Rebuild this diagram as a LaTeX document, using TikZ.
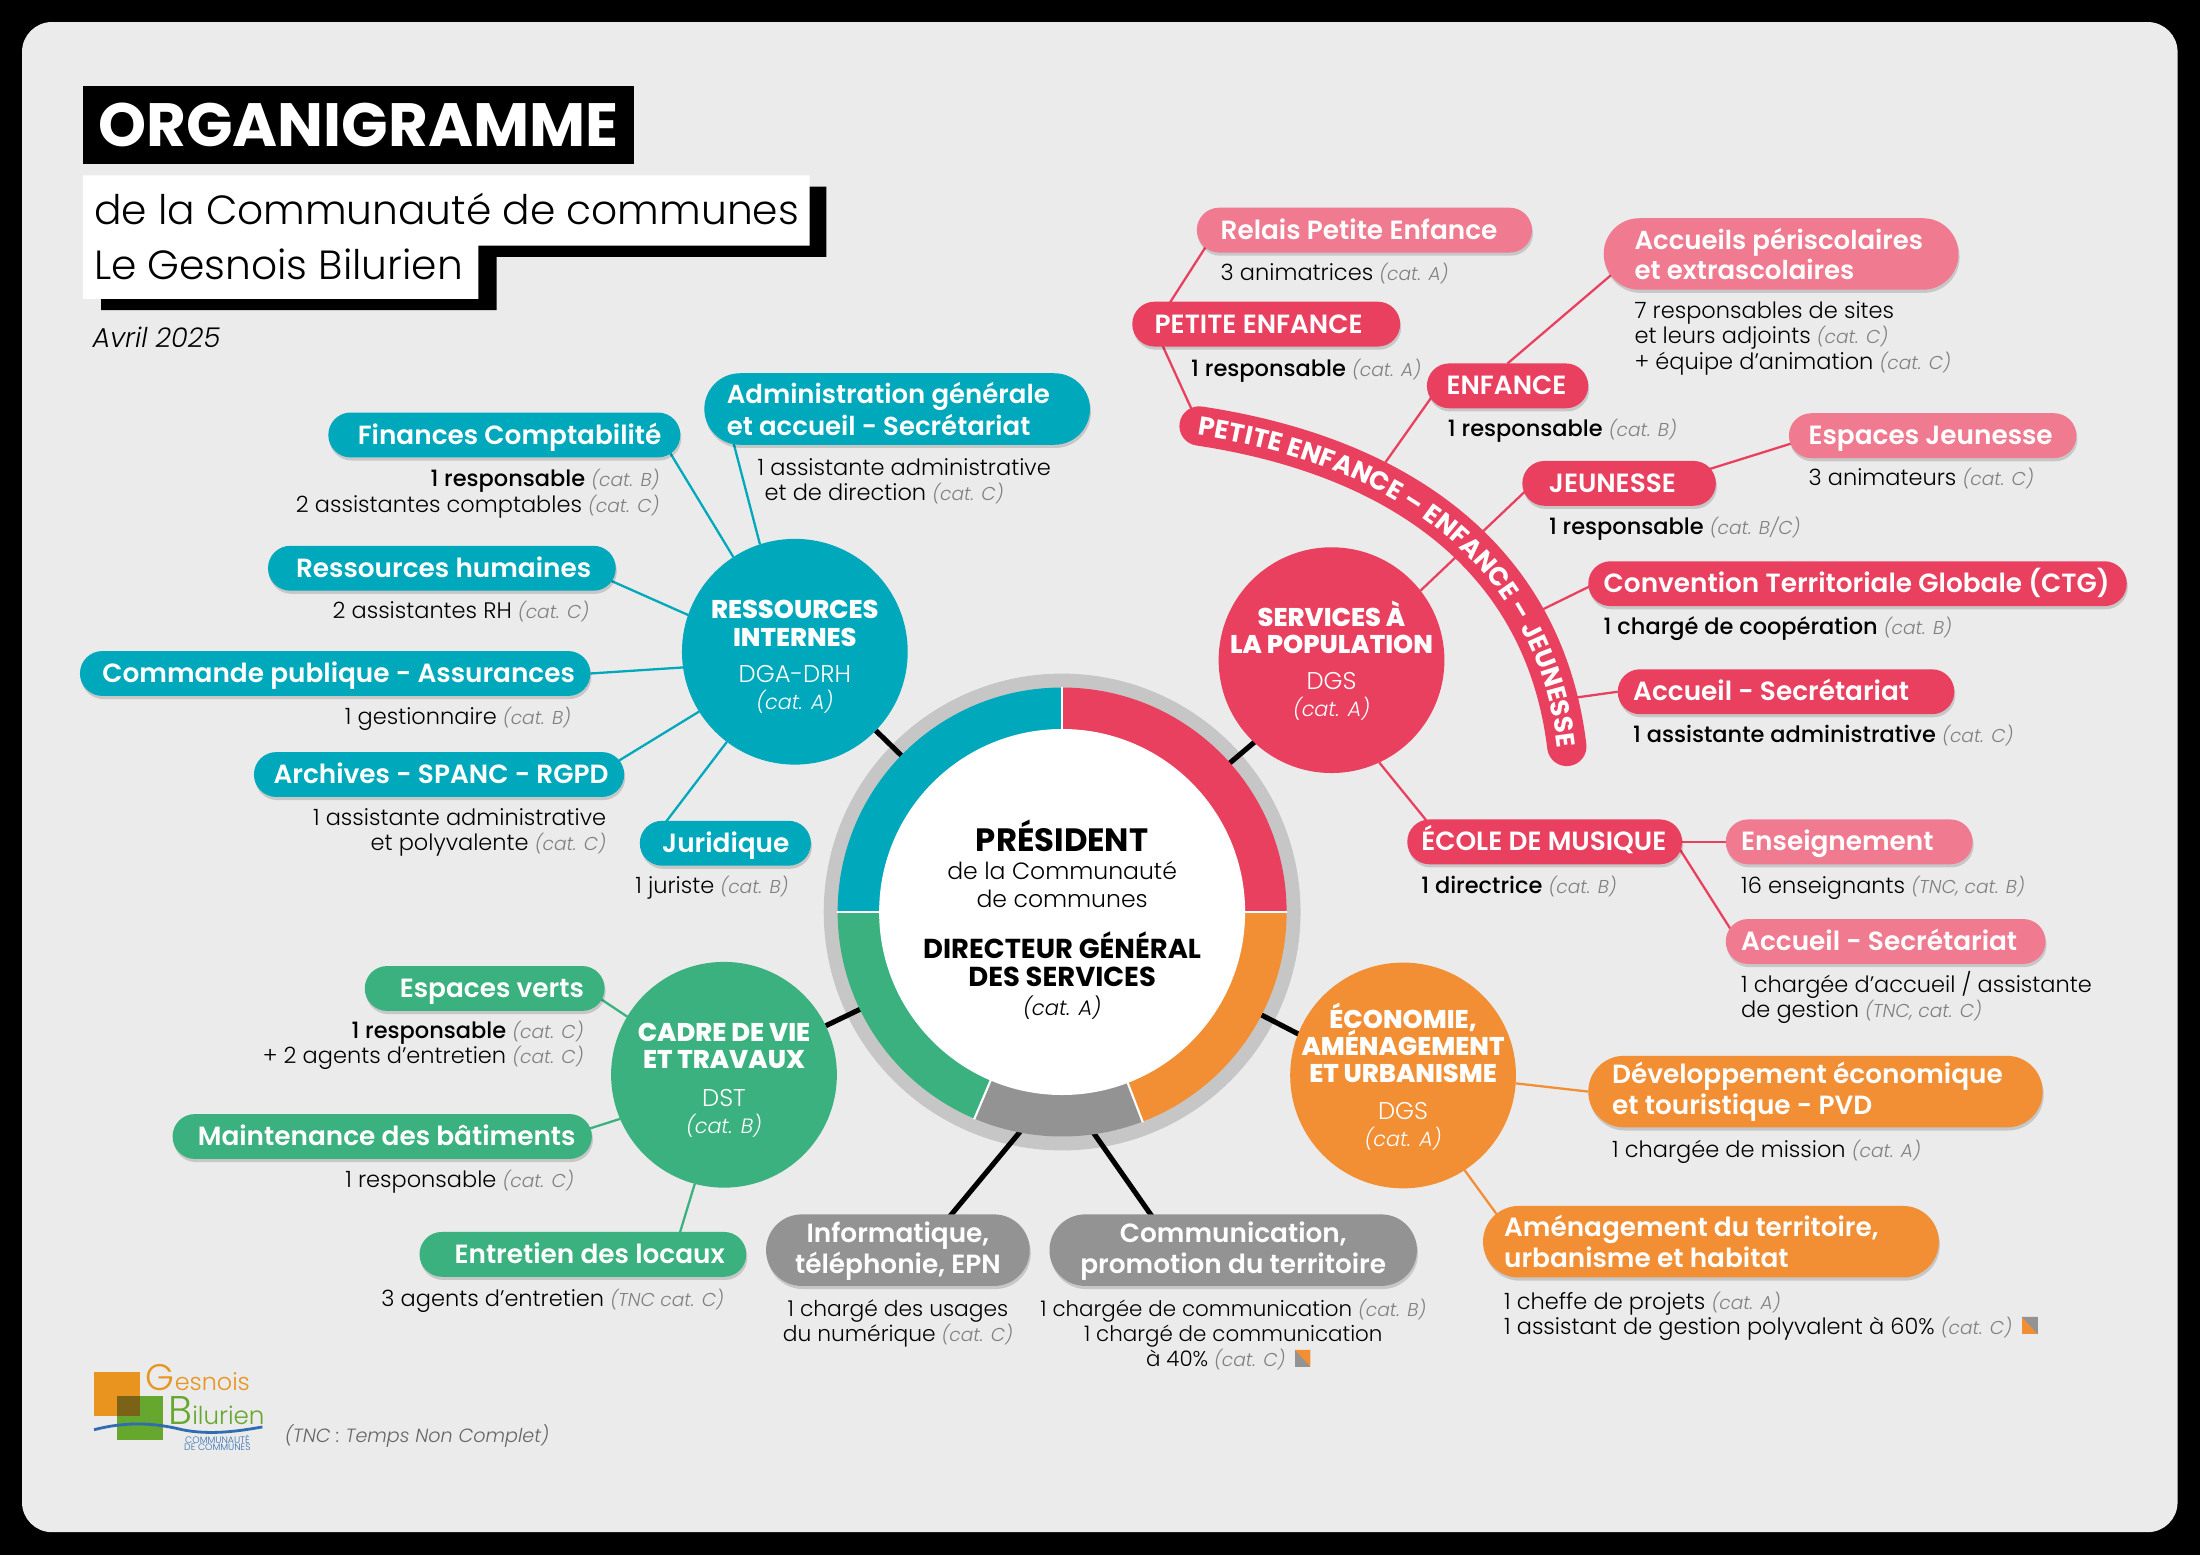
\documentclass[tikz,border=0pt]{standalone}
\usepackage{fontspec}
\setmainfont{Poppins}
\usetikzlibrary{backgrounds,shadows,decorations.text}
\newfontfamily\popl{Poppins Light}[ItalicFont={Poppins Light Italic}]
\newfontfamily\popm{Poppins Medium}
\newfontfamily\pops{Poppins SemiBold}
\newfontfamily\popb{Poppins Bold}
\newfontfamily\popx{Poppins ExtraBold}
\definecolor{tealc}{HTML}{00A8BC}
\definecolor{redc}{HTML}{E9405F}
\definecolor{pinkc}{HTML}{F07B90}
\definecolor{orangec}{HTML}{F28E33}
\definecolor{greenc}{HTML}{3BB17F}
\definecolor{greyc}{HTML}{939393}
\definecolor{ringc}{HTML}{C6C6C6}
\definecolor{panelc}{HTML}{EBEBEB}
\definecolor{catc}{HTML}{808080}
\definecolor{logoo}{HTML}{E8941E}
\definecolor{logog}{HTML}{66A82E}
\definecolor{logob}{HTML}{2F6DB0}
\def\un{0.3992pt}
\newdimen\und \und=0.3992pt
\newcommand{\ct}[1]{{\color{catc}\itshape\fontsize{5.3}{7.18}\selectfont (#1)}}
\newcommand{\rs}[1]{{\popm #1}}
\newcommand{\ex}[1]{{\popx\fontsize{7.3}{7.7}\selectfont #1}}
\newcommand{\cc}[1]{{\itshape\fontsize{5.9}{7.7}\selectfont (#1)}}
\tikzset{
  every node/.style={inner sep=0pt,outer sep=0pt},
  pill/.style n args={3}{fill=#1,text=white,anchor=west,text width=#2*\un,
    minimum height=32*\un,rounded corners=15.9*\un,align=flush left,
    font=\pops\fontsize{7.5}{8.8}\selectfont,
    execute at begin node={\leftskip=#3\und\hyphenpenalty=10000 },text height=6.4pt,text depth=1.2pt,
    drop shadow={shadow xshift=.3pt,shadow yshift=-.9pt,opacity=.15,fill=black}},
  pilltwo/.style={text height=,text depth=,minimum height=51*\un,rounded corners=25.4*\un},
  pilltight/.style={font=\pops\fontsize{7.4}{7.7}\selectfont},
  pillc/.style={text height=6.6pt,execute at begin node={\leftskip=0pt plus 1fil\rightskip=0pt plus 1fil\parfillskip=0pt }},
  small/.style={font=\popl\fontsize{6.4}{7.18}\selectfont,text=black,yshift=-.4pt},
  sr/.style={small,anchor=base east,align=right},
  sl/.style={small,anchor=base west,align=left},
  sc/.style={small,anchor=base,align=center},
  svc/.style={circle,fill=#1,minimum size=161*\un},
  svctxt/.style={text=white,align=center,anchor=base,font=\popl\fontsize{6.9}{7.7}\selectfont},
  link/.style={draw=#1,line width=.65pt},
  blackline/.style={draw=black,line width=1.45pt},
}
\begin{document}
\lineskiplimit=-100pt
\begin{tikzpicture}[x=0.0140306cm,y=-0.0140306cm]
\useasboundingbox (0,0) rectangle (1568,1108.3);

% titre
\fill[black] (72,133) -| (589,183) -| (354,221) -| cycle;
\fill[white] (59,125) -| (577,175) -| (341,213) -| cycle;
\node[fill=black,text=white,minimum width=393*\un,minimum height=56*\un,font=\popb\fontsize{17.4}{18}\selectfont] (titre) at (255.5,89) {ORGANIGRAMME};
\node[anchor=base west,font=\popl\fontsize{11.6}{15}\selectfont] (sous1) at (67,160) {de la Communauté de communes};
\node[anchor=base west,font=\popl\fontsize{11.6}{15}\selectfont] (sous2) at (67,199) {Le Gesnois Bilurien};
\node[anchor=base west,font=\popl\itshape\fontsize{7.75}{9}\selectfont] (date) at (66,248) {Avril 2025};

% centre
\foreach \aa/\bb/\cc in {0/69/orangec,69/113/greyc,113/180/greenc,180/270/tealc,270/360/redc}
  \fill[\cc] ([shift={(\aa:160)}]757,650) arc[start angle=\aa,end angle=\bb,radius=160]
    -- ([shift={(\bb:130)}]757,650) arc[start angle=\bb,end angle=\aa,radius=130] -- cycle;
\foreach \aa in {0,69,113,180,270}
  \draw[white,line width=.6pt] ([shift={(\aa:129)}]757,650) -- ([shift={(\aa:160.5)}]757,650);
\node[circle,fill=white,minimum size=261*\un] (pres) at (757,650) {};
\node[anchor=base,font=\popb\fontsize{9.2}{10}\selectfont] (prestxt) at (757,607) {PRÉSIDENT};
\node[anchor=base,align=center,font=\popl\fontsize{6.7}{8}\selectfont] (comm) at (757,647) {de la Communauté\\de communes};
\node[anchor=base,align=center,font=\popb\fontsize{7.8}{8}\selectfont] (dgs) at (757,703) {DIRECTEUR GÉNÉRAL\\DES SERVICES};
\node[anchor=base,font=\popl\itshape\fontsize{6}{8}\selectfont] (dgscat) at (757,724) {(cat. A)};

% poles
\node[svc=tealc] (resint) at (566.5,464.5) {};
\node[svctxt] (resinttxt) at (566.5,506) {\ex{RESSOURCES}\\\ex{INTERNES}\\[2.8pt]DGA-DRH\\\cc{cat. A}};
\node[svc=redc] (pop) at (949,470.5) {};
\node[svctxt] (poptxt) at (949,511) {\ex{SERVICES À}\\\ex{LA POPULATION}\\[2.8pt]DGS\\\cc{cat. A}};
\node[svc=orangec] (eco) at (1000,766.5) {};
\node[svctxt] (ecotxt) at (1000,817) {\ex{ÉCONOMIE,}\\\ex{AMÉNAGEMENT}\\\ex{ET URBANISME}\\[2.8pt]DGS\\\cc{cat. A}};
\node[svc=greenc] (cadre) at (516,766) {};
\node[svctxt] (cadretxt) at (516,808) {\ex{CADRE DE VIE}\\\ex{ET TRAVAUX}\\[3.2pt]DST\\\cc{cat. B}};

% ressources internes
\node[pill={tealc}{251}{21}] (fin) at (234,310) {Finances Comptabilité};
\node[sr] (finsub) at (470,364) {\rs{1 responsable} \ct{cat. B}\\2 assistantes comptables \ct{cat. C}};
\node[pill={tealc}{275}{16},pilltwo,pilltight] (adm) at (502,291.5) {Administration générale\\et accueil - Secrétariat};
\node[sl] (admsub) at (540,356) {1 assistante administrative\\\hspace*{2pt}et de direction \ct{cat. C}};
\node[pill={tealc}{248}{20}] (rh) at (191,405) {Ressources humaines};
\node[sr] (rhsub) at (420,440) {2 assistantes RH \ct{cat. C}};
\node[pill={tealc}{364}{16}] (cmd) at (57,480) {Commande publique - Assurances};
\node[sr] (cmdsub) at (407,515) {1 gestionnaire \ct{cat. B}};
\node[pill={tealc}{264}{14}] (arch) at (181,552) {Archives - SPANC - RGPD};
\node[sr] (archsub) at (432,605) {1 assistante administrative\\et polyvalente \ct{cat. C}};
\node[pill={tealc}{122}{16}] (jur) at (456,601) {Juridique};
\node[sr] (jursub) at (562,636) {1 juriste \ct{cat. B}};

% services a la population
\node[pill={pinkc}{239}{17}] (relais) at (853,164) {Relais Petite Enfance};
\node[sl] (relaissub) at (870,199) {3 animatrices \ct{cat. A}};
\node[pill={redc}{191}{16}] (penf) at (807,231) {PETITE ENFANCE};
\node[sl] (penfsub) at (849,267) {\rs{1 responsable} \ct{cat. A}};
\node[pill={pinkc}{253}{22},pilltwo,pilltight] (peri) at (1143,181) {Accueils périscolaires\\et extrascolaires};
\node[sl] (perisub) at (1165,262) {7 responsables de sites\\et leurs adjoints \ct{cat. C}\\+ équipe d’animation \ct{cat. C}};
\node[pill={redc}{115}{14}] (enf) at (1017,275) {ENFANCE};
\node[sl] (enfsub) at (1032,310) {\rs{1 responsable} \ct{cat. B}};
\node[pill={redc}{138}{19}] (jeun) at (1085,344.5) {JEUNESSE};
\node[sl] (jeunsub) at (1104,380) {\rs{1 responsable} \ct{cat. B/C}};
\node[pill={pinkc}{205}{14}] (espj) at (1275,310.5) {Espaces Jeunesse};
\node[sl] (espjsub) at (1289,345) {3 animateurs \ct{cat. C}};
\node[pill={redc}{384}{11}] (ctg) at (1132,416) {Convention Territoriale Globale (CTG)};
\node[sl] (ctgsub) at (1143,451) {\rs{1 chargé de coopération} \ct{cat. B}};
\node[pill={redc}{240}{11}] (acc) at (1153,493) {Accueil - Secrétariat};
\node[sl] (accsub) at (1164,528) {\rs{1 assistante administrative} \ct{cat. C}};
\node[pill={redc}{196}{10}] (ecole) at (1003,600) {ÉCOLE DE MUSIQUE};
\node[sl] (ecolesub) at (1013,636) {\rs{1 directrice} \ct{cat. B}};
\node[pill={pinkc}{176}{11}] (ens) at (1230,600) {Enseignement};
\node[sl] (enssub) at (1241,636) {16 enseignants \ct{TNC, cat. B}};
\node[pill={pinkc}{228}{11}] (accp) at (1230,671) {Accueil - Secrétariat};
\node[sl] (accpsub) at (1241,724) {1 chargée d’accueil / assistante\\de gestion \ct{TNC, cat. C}};

% bandeau
\coordinate (bande1) at (854,302);
\coordinate (bande2) at (980,340);
\coordinate (bande3) at (1090,439);
\coordinate (bande4) at (1110,499);
\draw[redc,line width=11.2pt,line cap=round] (854.6,303.6) .. controls (1003,326) and (1101,402) .. (1116.7,532);
\path[decorate,decoration={text along path,text={|\popb\fontsize{7.4}{8}\selectfont|PETITE ENFANCE – ENFANCE – JEUNESSE},text color=white,raise=-2.6pt,text align={fit to path}}] (854.6,303.6) .. controls (1003,326) and (1101,402) .. (1116.7,532);

% economie
\node[pill={orangec}{324}{17},pilltwo] (dev) at (1132,778) {Développement économique\\et touristique - PVD};
\node[sl] (devsub) at (1149,824) {1 chargée de mission \ct{cat. A}};
\node[pill={orangec}{325}{15},pilltwo] (amen) at (1057,885) {Aménagement du territoire,\\urbanisme et habitat};
\node[sl] (amensub) at (1072,950) {1 cheffe de projets \ct{cat. A}\\1 assistant de gestion polyvalent à 60\% \ct{cat. C}};
\fill[orangec] (1441,938.6) rectangle (1452.5,951);
\fill[greyc] (1441,938.6) -- (1452.5,938.6) -- (1452.5,951) -- cycle;

% transversal
\node[pill={greyc}{188}{0},pilltwo,pillc] (info) at (546,891) {Informatique,\\téléphonie, EPN};
\node[sc,font=\popl\fontsize{6.2}{7.18}\selectfont] (infosub) at (640,955) {1 chargé des usages\\du numérique \ct{cat. C}};
\node[pill={greyc}{262}{0},pilltwo,pillc] (com) at (748,891) {Communication,\\promotion du territoire};
\node[sc,font=\popl\fontsize{6.1}{7.18}\selectfont] (comsub) at (879,973) {1 chargée de communication \ct{cat. B}\\1 chargé de communication\\à 40\% \ct{cat. C}\hspace*{10pt}};
\fill[greyc] (922.7,962) rectangle (934,974);
\fill[orangec] (922.7,962) -- (934,962) -- (934,974) -- cycle;
\coordinate (segA) at (740,791);
\coordinate (segB) at (770,794);

% cadre de vie
\node[pill={greenc}{171}{25}] (verts) at (260,704.5) {Espaces verts};
\node[sr] (vertssub) at (416,757) {\rs{1 responsable} \ct{cat. C}\\+ 2 agents d’entretien \ct{cat. C}};
\node[pill={greenc}{299}{18}] (maint) at (123,810) {Maintenance des bâtiments};
\node[sr] (maintsub) at (409,845) {1 responsable \ct{cat. C}};
\node[pill={greenc}{233}{25}] (locaux) at (299,894) {Entretien des locaux};
\node[sr] (locauxsub) at (516,930) {3 agents d’entretien \ct{TNC cat. C}};

% logo
\fill[logoo] (67,978) rectangle (100,1009);
\fill[logog] (83.5,995) rectangle (116,1026.5);
\fill[black!45!logoo,opacity=.8] (83.5,995) rectangle (100,1009);
\draw[logob,line width=.8pt] (67,1019) .. controls (90,1013) and (110,1014) .. (130,1019) .. controls (150,1023) and (170,1020) .. (187,1017);
\node[anchor=base west,text=logoo,font=\popl\fontsize{6.8}{9}\selectfont] (gesnois) at (104,991) {{\fontsize{10.5}{13}\selectfont G}esnois};
\node[anchor=base west,text=logog,font=\popl\fontsize{7}{9}\selectfont] (bilurien) at (120,1015) {{\fontsize{11.4}{12}\selectfont B}ilurien};
\node[anchor=base,text=logob,align=center,font=\popl\fontsize{2.65}{2}\selectfont] (cdc) at (155,1034) {COMMUNAUTÉ\\DE COMMUNES};
\node[anchor=base west,text=black!60,font=\popl\itshape\fontsize{5.45}{7}\selectfont] (tnc) at (203,1028) {(TNC : Temps Non Complet)};

% fond et liens
\begin{pgfonlayer}{background}
\fill[black] (0,0) rectangle (1568,1108.3);
\fill[panelc,rounded corners=8.5pt] (15.7,15.7) rectangle (1552,1092);
\node[circle,fill=ringc,minimum size=340*\un] (anneau) at (757,650) {};
\draw[blackline] (pres) -- (resint);
\draw[blackline] (pres) -- (cadre);
\draw[blackline] ([shift={(0,-5)}]pres.center) -- ([shift={(-19,28)}]pop.center);
\draw[blackline] (pres) -- ([shift={(0,9)}]eco.center);
\draw[blackline] (segA) -- ([shift={(17,0)}]info.center);
\draw[blackline] (segB) -- ([shift={(-41,0)}]com.center);
\draw[link=tealc] ([shift={(-15,0)}]fin.east) -- (resint.123);
\draw[link=tealc] ([shift={(14.5,0)}]adm.west) -- (resint.108);
\draw[link=tealc] ([shift={(-10,6)}]rh.east) -- (resint.161);
\draw[link=tealc] (cmd.east) -- (resint.188);
\draw[link=tealc] ([shift={(-15,-3)}]arch.east) -- (resint.212);
\draw[link=tealc] ([shift={(7,0)}]jur.west) -- (resint.233);
\draw[link=redc] ([shift={(14,0)}]relais.west) -- ([shift={(17,0)}]penf.west);
\draw[link=redc] ([shift={(14.6,0)}]penf.west) -- (bande1);
\draw[link=redc] ([shift={(9,0)}]enf.west) -- (bande2);
\draw[link=redc] ([shift={(17,5)}]peri.west) -- (enf.north);
\draw[link=redc] ([shift={(8,0)}]jeun.west) -- (pop.38);
\draw[link=redc] ([shift={(-18,-6)}]jeun.east) -- ([shift={(10,3)}]espj.west);
\draw[link=redc] ([shift={(13,-4)}]ctg.west) -- (bande3);
\draw[link=redc] (acc.west) -- (bande4);
\draw[link=redc] (pop.-65) -- ([shift={(26,0)}]ecole.west);
\draw[link=redc] (ecole.east) -- (ens.west);
\draw[link=redc] ([shift={(-5,0)}]ecole.east) -- ([shift={(9,0)}]accp.west);
\draw[link=orangec] (eco.-4) -- (dev.west);
\draw[link=orangec] (eco.-57) -- ([shift={(24,0)}]amen.west);
\draw[link=greenc] ([shift={(-14,0)}]verts.east) -- (cadre.149);
\draw[link=greenc] ([shift={(-10,-3)}]maint.east) -- (cadre.203);
\draw[link=greenc] ([shift={(-52,0)}]locaux.east) -- (cadre.255);
\end{pgfonlayer}
\end{tikzpicture}
\end{document}
